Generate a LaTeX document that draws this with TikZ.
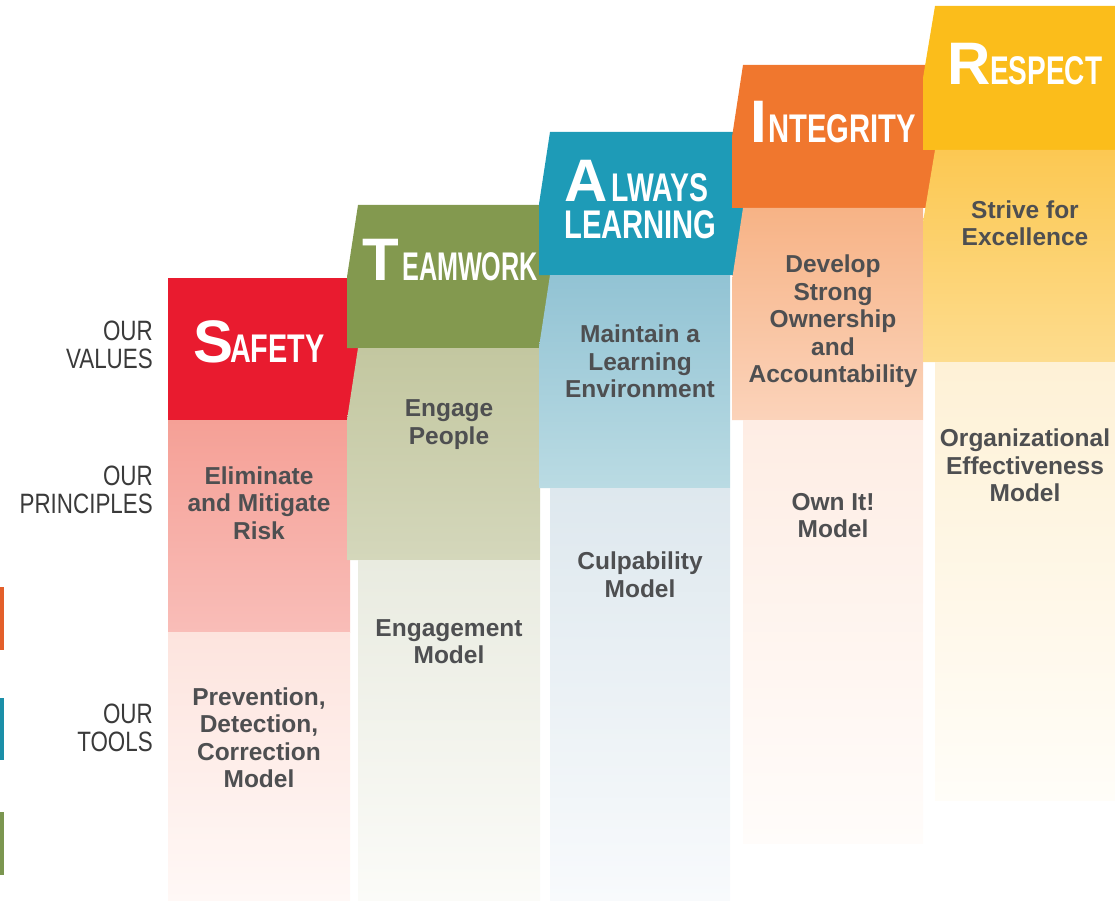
\documentclass[tikz,border=0pt]{standalone}
\usepackage{fontspec}
\setmainfont{Liberation Sans}
\definecolor{cRed}{HTML}{E91B2F}
\definecolor{pkA}{HTML}{F5A096}
\definecolor{pkB}{HTML}{F9BDB8}
\definecolor{pkC}{HTML}{FDE4DE}
\definecolor{pkD}{HTML}{FFF8F6}
\definecolor{cGreen}{HTML}{83994F}
\definecolor{grA}{HTML}{C3C7A0}
\definecolor{grB}{HTML}{D4D7BB}
\definecolor{grC}{HTML}{E9EBE0}
\definecolor{grD}{HTML}{FBFBF8}
\definecolor{cTeal}{HTML}{1E9BB7}
\definecolor{blA}{HTML}{92C3D4}
\definecolor{blB}{HTML}{BADBE3}
\definecolor{blC}{HTML}{DEE8EE}
\definecolor{blD}{HTML}{F8FAFC}
\definecolor{cOrange}{HTML}{F0772E}
\definecolor{orA}{HTML}{F7B386}
\definecolor{orB}{HTML}{FBD3BA}
\definecolor{orC}{HTML}{FEEDE4}
\definecolor{orD}{HTML}{FFFCFA}
\definecolor{cYellow}{HTML}{FBBD1B}
\definecolor{yeA}{HTML}{FCC852}
\definecolor{yeB}{HTML}{FDDC8E}
\definecolor{yeC}{HTML}{FEF1D6}
\definecolor{yeD}{HTML}{FFFDF8}
\definecolor{txt}{HTML}{4E4F51}
\definecolor{lbl}{HTML}{3A3A3A}
\definecolor{barO}{HTML}{E35F2A}
\definecolor{barT}{HTML}{1B8FA8}
\definecolor{barG}{HTML}{7B9650}
\newcommand\condlbl[1]{\scalebox{0.8}[1]{\fontsize{28}{28}\selectfont\begin{tabular}{@{}r@{}}#1\end{tabular}}}
\newcommand\hdbig[1]{\fontsize{60}{60}\selectfont\bfseries #1}
\newcommand\hdrest[2]{\scalebox{#1}[1]{\fontsize{40}{40}\selectfont\bfseries #2}}
\tikzset{
  body/.style={font=\bfseries\fontsize{24.5}{27.5}\selectfont, text=txt, align=center, inner sep=0pt},
  sidelbl/.style={text=lbl, anchor=east, inner sep=0pt},
  head/.style={text=white, anchor=base west, inner sep=0pt, text depth=0pt},
}
\begin{document}
\begin{tikzpicture}[x=1pt,y=-1pt]
\useasboundingbox (0,0) rectangle (1115,901);
% column 1
\fill[cRed] (168,278) rectangle (358,420);
\shade[top color=pkA,bottom color=pkB] (168,420) rectangle (350,632);
\shade[top color=pkC,bottom color=pkD] (168,632) rectangle (350,900);
% column 2
\fill[cGreen] (358,205) -- (550,205) -- (550,348) -- (347,348) -- (347,277) -- cycle;
\shade[top color=grA,bottom color=grB] (358,348) -- (540,348) -- (540,560) -- (347,560) -- (347,420) -- cycle;
\shade[top color=grC,bottom color=grD] (358,560) rectangle (540,900);
% column 3
\fill[cTeal] (550,132) -- (743,132) -- (743,275) -- (539,275) -- (539,204) -- cycle;
\shade[top color=blA,bottom color=blB] (550,275) -- (730,275) -- (730,488) -- (539,488) -- (539,347) -- cycle;
\shade[top color=blC,bottom color=blD] (550,488) rectangle (730,900);
% column 4
\fill[cOrange] (743,65) -- (935,65) -- (935,208) -- (732,208) -- (732,137) -- cycle;
\shade[top color=orA,bottom color=orB] (743,208) -- (923,208) -- (923,420) -- (732,420) -- (732,280) -- cycle;
\shade[top color=orC,bottom color=orD] (743,420) rectangle (923,843);
% column 5
\fill[cYellow] (935,6) -- (1115,6) -- (1115,150) -- (923,150) -- (923,78) -- cycle;
\shade[top color=yeA,bottom color=yeB] (935,150) -- (1115,150) -- (1115,362) -- (923,362) -- (923,222) -- cycle;
\shade[top color=yeC,bottom color=yeD] (935,362) rectangle (1115,800);
% left bars
\fill[barO] (0,587) rectangle (3.5,650);
\fill[barT] (0,698) rectangle (3.5,760);
\fill[barG] (0,812) rectangle (3.5,875);
% side labels
\node[sidelbl] (lv) at (153,349) {\condlbl{OUR\\VALUES}};
\node[sidelbl] (lp) at (153,494) {\condlbl{OUR\\PRINCIPLES}};
\node[sidelbl] (lt) at (153,732) {\condlbl{OUR\\TOOLS}};
% headings
\node[head] (h1a) at (193,362) {\hdbig{S}};
\node[head] (h1b) at (230,362) {\hdrest{0.72}{AFETY}};
\node[head] (h2a) at (362,280) {\hdbig{T}};
\node[head] (h2b) at (402,280) {\hdrest{0.63}{EAMWORK}};
\node[head] (h3a) at (564,202) {\hdbig{A}};
\node[head] (h3b) at (611,202) {\hdrest{0.71}{LWAYS}};
\node[head] (h3c) at (564,238) {\hdrest{0.73}{LEARNING}};
\node[head] (h4a) at (750,143) {\hdbig{I}};
\node[head] (h4b) at (768,143) {\hdrest{0.73}{NTEGRITY}};
\node[head] (h5a) at (947,85) {\hdbig{R}};
\node[head] (h5b) at (990,85) {\hdrest{0.70}{ESPECT}};
% principles and tools
\node[body] (p1) at (259,503) {Eliminate\\and Mitigate\\Risk};
\node[body] (t1) at (259,737.5) {Prevention,\\Detection,\\Correction\\Model};
\node[body] (p2) at (449,424.5) {Engage\\People};
\node[body] (t2) at (449,641.5) {Engagement\\Model};
\node[body] (p3) at (640,361.5) {Maintain a\\Learning\\Environment};
\node[body] (t3) at (640,574.5) {Culpability\\Model};
\node[body] (p4) at (833,321.5) {Develop\\Strong\\Ownership\\and\\Accountability};
\node[body] (t4) at (833,515.5) {Own It!\\Model};
\node[body] (p5) at (1025,223) {Strive for\\Excellence};
\node[body] (t5) at (1025,465.5) {Organizational\\Effectiveness\\Model};
\end{tikzpicture}
\end{document}
